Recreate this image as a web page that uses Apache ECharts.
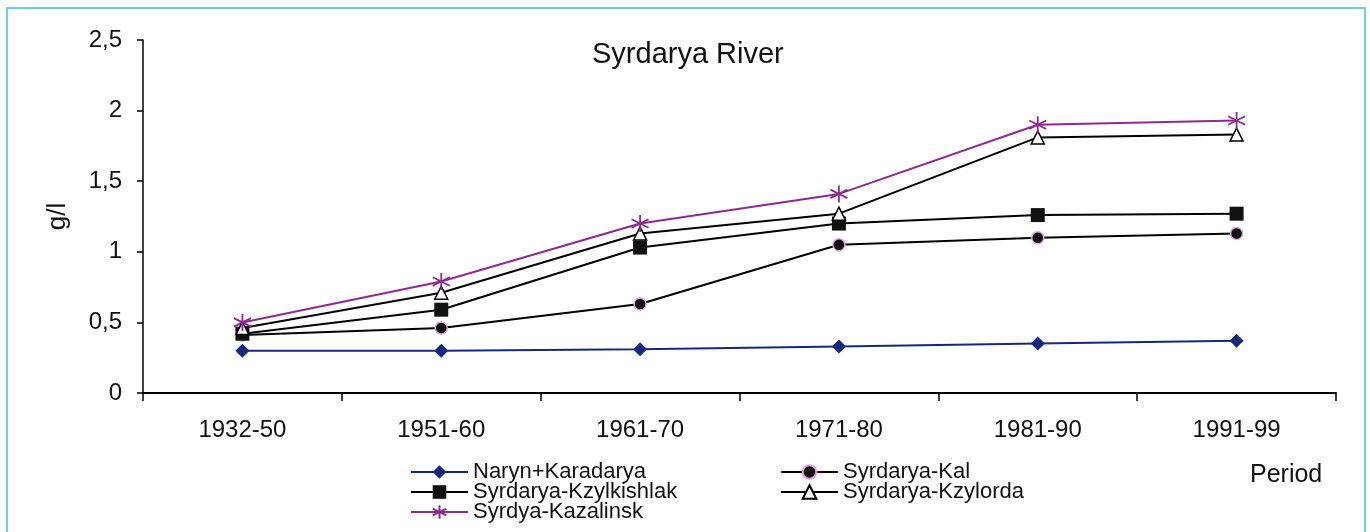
<!DOCTYPE html>
<html>
<head>
<meta charset="utf-8">
<script src="https://cdn.jsdelivr.net/npm/echarts@6/dist/echarts.min.js"></script>
<style>
  html, body { margin: 0; padding: 0; background: #fff; }
  #main { width: 1370px; height: 532px; }
</style>
</head>
<body>
<div id="main"></div>
<script>
// periods on the x axis
var periods = ['1932-50', '1951-60', '1961-70', '1971-80', '1981-90', '1991-99'];
// mineralisation, g/l
var naryn       = [0.30, 0.30, 0.31, 0.33, 0.35, 0.37];
var kal         = [0.41, 0.46, 0.63, 1.05, 1.10, 1.13];
var kzylkishlak = [0.42, 0.59, 1.03, 1.20, 1.26, 1.27];
var kzylorda    = [0.46, 0.71, 1.13, 1.27, 1.81, 1.83];
var kazalinsk   = [0.50, 0.79, 1.20, 1.41, 1.90, 1.93];
var yTicks = [0, 0.5, 1, 1.5, 2, 2.5];

var font = 'Liberation Sans, Arial, sans-serif';
var star = 'path://M5,0L5,10M0.7,2.5L9.3,7.5M0.7,7.5L9.3,2.5';

var myChart = echarts.init(document.getElementById('main'));

function legendAt(name, left, top) {
  return {
    data: [name], left: left, top: top, orient: 'horizontal',
    itemWidth: 57, itemHeight: 17, itemGap: 0, padding: 0,
    selectedMode: false,
    textStyle: { fontFamily: font, fontSize: 22, color: '#111' }
  };
}

var option = {
  animation: false,
  backgroundColor: '#fff',
  title: {
    text: 'Syrdarya River', left: 587, top: 35,
    textStyle: { fontFamily: font, fontSize: 29, fontWeight: 'normal', color: '#111' }
  },
  legend: [
    legendAt('Naryn+Karadarya', 410, 461),
    legendAt('Syrdarya-Kal', 780, 461),
    legendAt('Syrdarya-Kzylkishlak', 410, 481),
    legendAt('Syrdarya-Kzylorda', 780, 481),
    legendAt('Syrdya-Kazalinsk', 410, 501)
  ],
  graphic: [
    { type: 'rect', shape: { x: 7, y: 8, width: 1358, height: 540 },
      style: { fill: 'none', stroke: '#6ccdec', lineWidth: 2 }, z: 100 },
    { type: 'text', left: 1250, top: 463,
      style: { text: 'Period', fontFamily: font, fontSize: 25, fill: '#111' } }
  ],
  grid: { left: 143, right: 34, top: 40, bottom: 139 },
  xAxis: {
    type: 'category', data: periods, boundaryGap: true,
    axisLine: { lineStyle: { color: '#000', width: 2 } },
    axisTick: { show: true, alignWithLabel: false, length: 8, lineStyle: { color: '#000', width: 1.5 } },
    axisLabel: { fontFamily: font, fontSize: 24, color: '#111', margin: 25 }
  },
  yAxis: {
    type: 'value', min: 0, max: 2.5, interval: 0.5,
    name: 'g/l', nameLocation: 'middle', nameGap: 72,
    nameTextStyle: { fontFamily: font, fontSize: 26, color: '#111' },
    splitLine: { show: false },
    axisLine: { show: true, lineStyle: { color: '#000', width: 1.5 } },
    axisTick: { show: true, length: 6, lineStyle: { color: '#000', width: 1.5 } },
    axisLabel: {
      fontFamily: font, fontSize: 24, color: '#111', margin: 21,
      formatter: function (v) {
        return yTicks.indexOf(v) >= 0 ? String(v).replace('.', ',') : '';
      }
    }
  },
  series: [
    {
      name: 'Naryn+Karadarya', type: 'line', data: naryn,
      symbol: 'diamond', symbolSize: 14,
      lineStyle: { color: '#15287e', width: 2 },
      itemStyle: { color: '#15287e' }
    },
    {
      name: 'Syrdarya-Kal', type: 'line', data: kal,
      symbol: 'circle', symbolSize: 12,
      lineStyle: { color: '#000', width: 2 },
      itemStyle: { color: '#111', borderColor: '#d8a4d8', borderWidth: 1.5 }
    },
    {
      name: 'Syrdarya-Kzylkishlak', type: 'line', data: kzylkishlak,
      symbol: 'rect', symbolSize: 14,
      lineStyle: { color: '#000', width: 2 },
      itemStyle: { color: '#111' }
    },
    {
      name: 'Syrdarya-Kzylorda', type: 'line', data: kzylorda,
      symbol: 'triangle', symbolSize: 13,
      lineStyle: { color: '#000', width: 2 },
      itemStyle: { color: '#fff', borderColor: '#000', borderWidth: 1.5 }
    },
    {
      name: 'Syrdya-Kazalinsk', type: 'line', data: kazalinsk,
      symbol: star, symbolSize: 17,
      lineStyle: { color: '#8d2a8f', width: 2 },
      itemStyle: { color: '#8d2a8f', borderColor: '#8d2a8f', borderWidth: 1.8 }
    }
  ]
};

myChart.setOption(option);
</script>
</body>
</html>
